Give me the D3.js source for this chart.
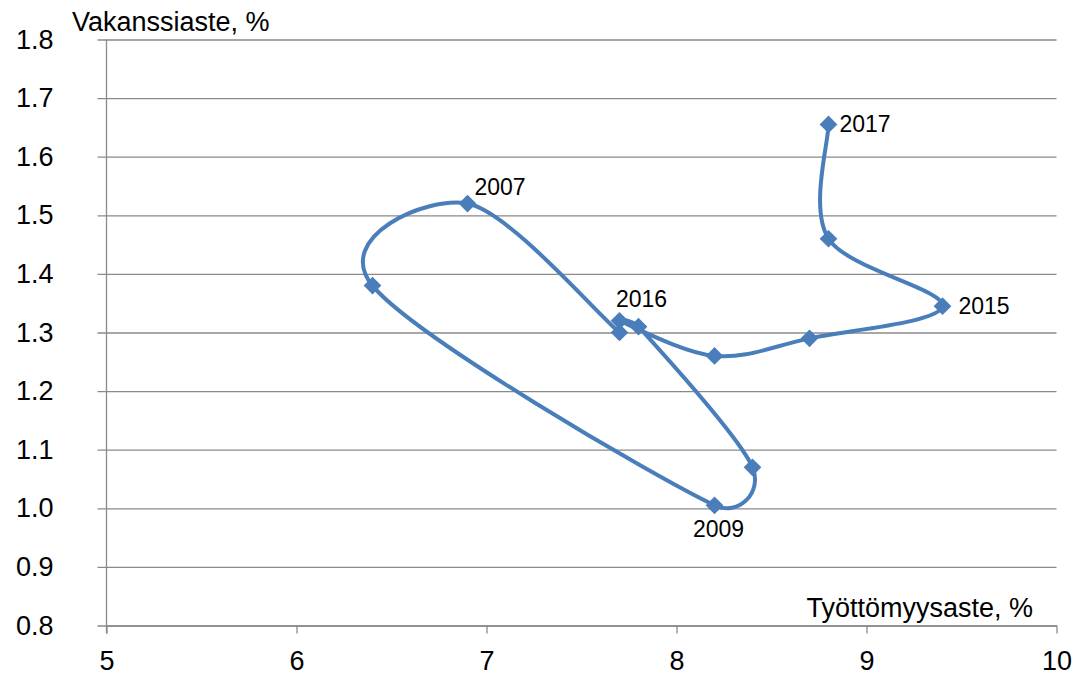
<!DOCTYPE html>
<html>
<head>
<meta charset="utf-8">
<script src="https://cdn.jsdelivr.net/npm/d3@7"></script>
<style>
  html, body { margin: 0; padding: 0; background: #fff; }
  svg { display: block; font-family: "Liberation Sans", Arial, sans-serif; }
</style>
</head>
<body>
<svg id="chart" width="1078" height="675"></svg>
<script>
// Unemployment rate (x) vs vacancy rate (y), yearly path
const unemployment = [7.7, 6.9, 6.4, 8.2, 8.4, 7.8, 7.7, 8.2, 8.7, 9.4, 8.8, 8.8];
const vacancy      = [1.30, 1.52, 1.38, 1.005, 1.07, 1.31, 1.32, 1.26, 1.29, 1.345, 1.46, 1.655];
const pointLabels  = ["", "2007", "", "2009", "", "", "2016", "", "", "2015", "", "2017"];
const xTicks = [5, 6, 7, 8, 9, 10];
const yTicks = [0.8, 0.9, 1.0, 1.1, 1.2, 1.3, 1.4, 1.5, 1.6, 1.7, 1.8];
const xTitle = "Työttömyysaste, %";
const yTitle = "Vakanssiaste, %";

const points = unemployment.map((u, i) => ({ x: u, y: vacancy[i], label: pointLabels[i] }));

const svg = d3.select("#chart");
const x = d3.scaleLinear().domain([5, 10]).range([106.5, 1056.5]);
const y = d3.scaleLinear().domain([0.8, 1.8]).range([625.5, 39.5]);

const gridColor = "#8a8a8a";
const blue = "#4a7ebb";

// Horizontal gridlines with left tick stubs and labels
const yAxis = d3.axisLeft(y)
  .tickValues(yTicks)
  .tickFormat(d3.format(".1f"))
  .tickSize(-(x.range()[1] - x.range()[0]))
  .tickSizeOuter(0)
  .tickPadding(0);
const gy = svg.append("g").attr("transform", `translate(${x.range()[0]},0)`).call(yAxis);
gy.select(".domain").remove();
gy.selectAll(".tick line").attr("stroke", gridColor).attr("stroke-width", 1.3).attr("x1", -9);
gy.selectAll(".tick text")
  .attr("x", -53)
  .attr("fill", "#000")
  .attr("font-size", 27)
  .attr("font-family", "Liberation Sans, Arial, sans-serif");

// Vertical value axis line
svg.append("line")
  .attr("x1", x(5)).attr("x2", x(5))
  .attr("y1", y(1.8)).attr("y2", y(0.8) + 8)
  .attr("stroke", gridColor).attr("stroke-width", 1.3);

// Horizontal category axis with downward ticks
const xAxis = d3.axisBottom(x)
  .tickValues(xTicks)
  .tickFormat(d3.format("d"))
  .tickSize(8)
  .tickSizeOuter(0)
  .tickPadding(17);
const gx = svg.append("g").attr("transform", `translate(0,${y(0.8)})`).call(xAxis);
gx.select(".domain").attr("stroke", gridColor).attr("stroke-width", 1.3);
gx.selectAll(".tick line").attr("stroke", gridColor).attr("stroke-width", 1.3);
gx.selectAll(".tick text")
  .attr("fill", "#000")
  .attr("font-size", 27)
  .attr("font-family", "Liberation Sans, Arial, sans-serif");

// Axis titles
svg.append("text")
  .attr("x", 72).attr("y", 31)
  .attr("font-size", 27)
  .attr("fill", "#000")
  .text(yTitle);
svg.append("text")
  .attr("x", 1033).attr("y", 617)
  .attr("text-anchor", "end")
  .attr("font-size", 27)
  .attr("fill", "#000")
  .text(xTitle);

// Smoothed path: cubic Bezier segments whose handles follow the neighbour
// chord (1/6 of it) but never exceed half of the segment they sit on.
function smoothPath(pts) {
  const p = d3.path();
  if (!pts.length) return "";
  p.moveTo(pts[0][0], pts[0][1]);
  const cap = (v, maxLen) => {
    const len = Math.hypot(v[0], v[1]);
    if (len > maxLen && len > 0) { const k = maxLen / len; return [v[0] * k, v[1] * k]; }
    return v;
  };
  for (let i = 0; i < pts.length - 1; i++) {
    const p0 = pts[i - 1] || pts[i];
    const p1 = pts[i];
    const p2 = pts[i + 1];
    const p3 = pts[i + 2] || pts[i + 1];
    const half = Math.hypot(p2[0] - p1[0], p2[1] - p1[1]) / 2;
    const t1 = cap([(p2[0] - p0[0]) / 6, (p2[1] - p0[1]) / 6], half);
    const t2 = cap([(p3[0] - p1[0]) / 6, (p3[1] - p1[1]) / 6], half);
    p.bezierCurveTo(p1[0] + t1[0], p1[1] + t1[1], p2[0] - t2[0], p2[1] - t2[1], p2[0], p2[1]);
  }
  return p.toString();
}

svg.append("path")
  .attr("d", smoothPath(points.map(d => [x(d.x), y(d.y)])))
  .attr("fill", "none")
  .attr("stroke", blue)
  .attr("stroke-width", 4)
  .attr("stroke-linejoin", "round");

// Diamond markers
const diamond = d3.symbol().type(d3.symbolDiamond2).size(200);
svg.append("g").selectAll("path")
  .data(points)
  .join("path")
  .attr("d", diamond)
  .attr("transform", d => `translate(${x(d.x)},${y(d.y)})`)
  .attr("fill", blue);

// Year labels
const labelOffsets = {
  "2007": { dx: 7, dy: -9, anchor: "start" },
  "2009": { dx: 4, dy: 32, anchor: "middle" },
  "2016": { dx: 22, dy: -14, anchor: "middle" },
  "2015": { dx: 16, dy: 8, anchor: "start" },
  "2017": { dx: 11, dy: 8, anchor: "start" }
};
svg.append("g").selectAll("text")
  .data(points.filter(d => d.label))
  .join("text")
  .attr("x", d => x(d.x) + labelOffsets[d.label].dx)
  .attr("y", d => y(d.y) + labelOffsets[d.label].dy)
  .attr("text-anchor", d => labelOffsets[d.label].anchor)
  .attr("font-size", 23)
  .attr("fill", "#000")
  .text(d => d.label);
</script>
</body>
</html>
